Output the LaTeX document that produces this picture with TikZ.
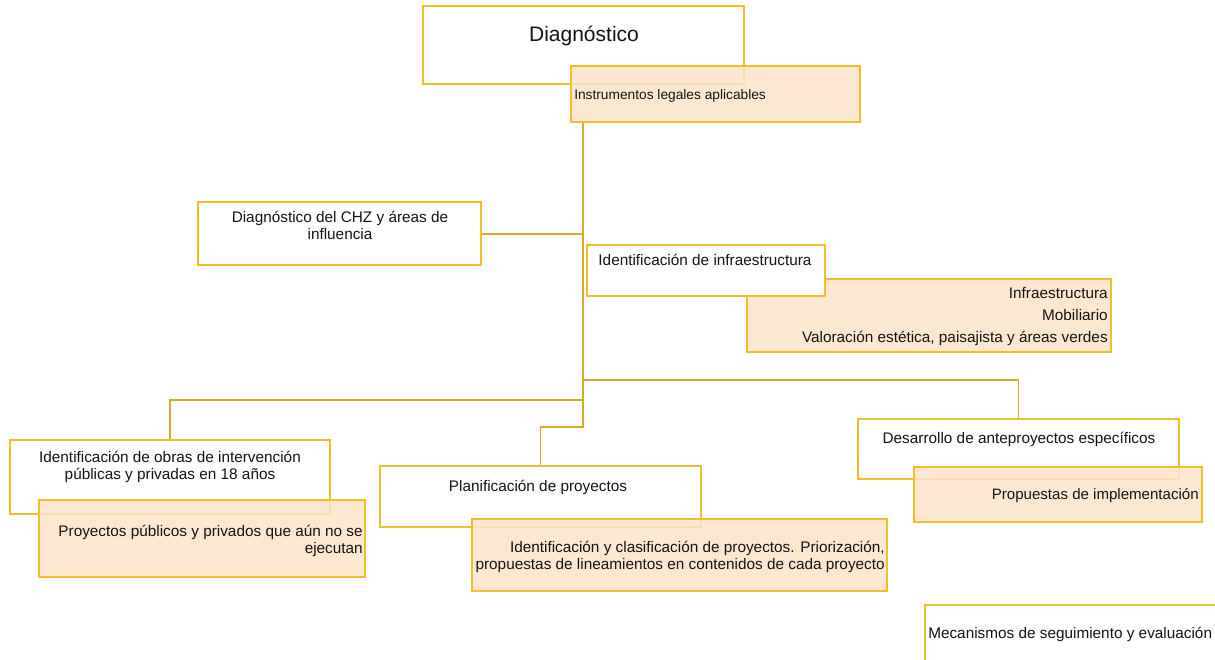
\documentclass[tikz,border=0pt]{standalone}
\usepackage{fontspec}
\setmainfont{Liberation Sans}
\usetikzlibrary{fit}
\definecolor{boxline}{HTML}{F2BF2C}
\definecolor{connline}{HTML}{D8AA30}
\definecolor{peach}{HTML}{FCE4C9}
\definecolor{txtcol}{HTML}{141414}
\begin{document}
\begin{tikzpicture}[x=0.75pt,y=-0.75pt,
  wbox/.style={draw=boxline,line width=1.3pt,fill=white,inner sep=0pt},
  obox/.style={draw=boxline,line width=1.3pt,fill=peach,fill opacity=0.85,inner sep=0pt},
  conn/.style={draw=connline,line width=1.3pt},
  txt/.style={inner sep=0pt,yshift=-1.5pt,text=txtcol,font=\fontsize{11.5}{12.3}\selectfont},
]
\useasboundingbox (0,0) rectangle (1215,660);
\clip (0,0) rectangle (1215,660);
% junction coordinates
\coordinate (j1) at (583,234);
\coordinate (j2) at (583,380);
\coordinate (j4) at (583,400);
\coordinate (j3) at (583,427);
% boxes
\node[wbox,fit={(423,6)(744,84)}] (diag) {};
\node[obox,fit={(571,66)(860,122)}] (instr) {};
\node[wbox,fit={(198,202)(481,265)}] (chz) {};
\node[obox,fit={(747,279)(1111,352)}] (infl) {};
\node[wbox,fit={(587,245)(825,296)}] (infr) {};
\node[wbox,fit={(858,419)(1179,479)}] (des) {};
\node[obox,fit={(914,467)(1202,522)}] (prop) {};
\node[wbox,fit={(10,440)(330,514)}] (obras) {};
\node[obox,fit={(39,500)(365,577)}] (proyp) {};
\node[wbox,fit={(380,466)(701,527)}] (plan) {};
\node[obox,fit={(472,519)(887,591)}] (ident) {};
\node[wbox,fit={(925,605)(1222,668)}] (mec) {};
% connectors
\draw[conn] (instr.south -| j1) -- (j3) -- (j3 -| plan.north) -- (plan.north);
\draw[conn] (j1 -| chz.east) -- (j1);
\draw[conn] (j2) -- (j2 -| des.north) -- (des.north);
\draw[conn] (j4) -- (j4 -| obras.north) -- (obras.north);
% texts
\node[txt,font=\fontsize{15.75}{18}\selectfont] (diagT) at (584,34) {Diagnóstico};
\node[txt,font=\fontsize{10.3}{12}\selectfont,anchor=west] (instrT) at (574,94) {Instrumentos legales aplicables};
\node[txt,align=center] (chzT) at (340,223.5) {Diagnóstico del CHZ y áreas de\\influencia};
\node[txt] (infrT) at (705,258) {Identificación de infraestructura};
\node[txt,align=right,anchor=east,font=\fontsize{11.5}{16.5}\selectfont] (inflT) at (1108,315) {Infraestructura\\Mobiliario\\Valoración estética, paisajista y áreas verdes};
\node[txt] (desT) at (1019,437) {Desarrollo de anteproyectos específicos};
\node[txt,anchor=east,font=\fontsize{11.3}{12.3}\selectfont] (propT) at (1199,494) {Propuestas de implementación};
\node[txt,align=center] (obrasT) at (170,465) {Identificación de obras de intervención\\públicas y privadas en 18 años};
\node[txt,align=right,anchor=east] (proypT) at (363,539) {Proyectos públicos y privados que aún no se\\ejecutan};
\node[txt] (planT) at (538,485) {Planificación de proyectos};
\node[txt,align=right,anchor=east] (identT) at (885,555) {Identificación y clasificación de proyectos. Priorización,\\propuestas de lineamientos en contenidos de cada proyecto};
\node[txt,anchor=west] (mecT) at (928,632) {Mecanismos de seguimiento y evaluación};
\end{tikzpicture}
\end{document}
